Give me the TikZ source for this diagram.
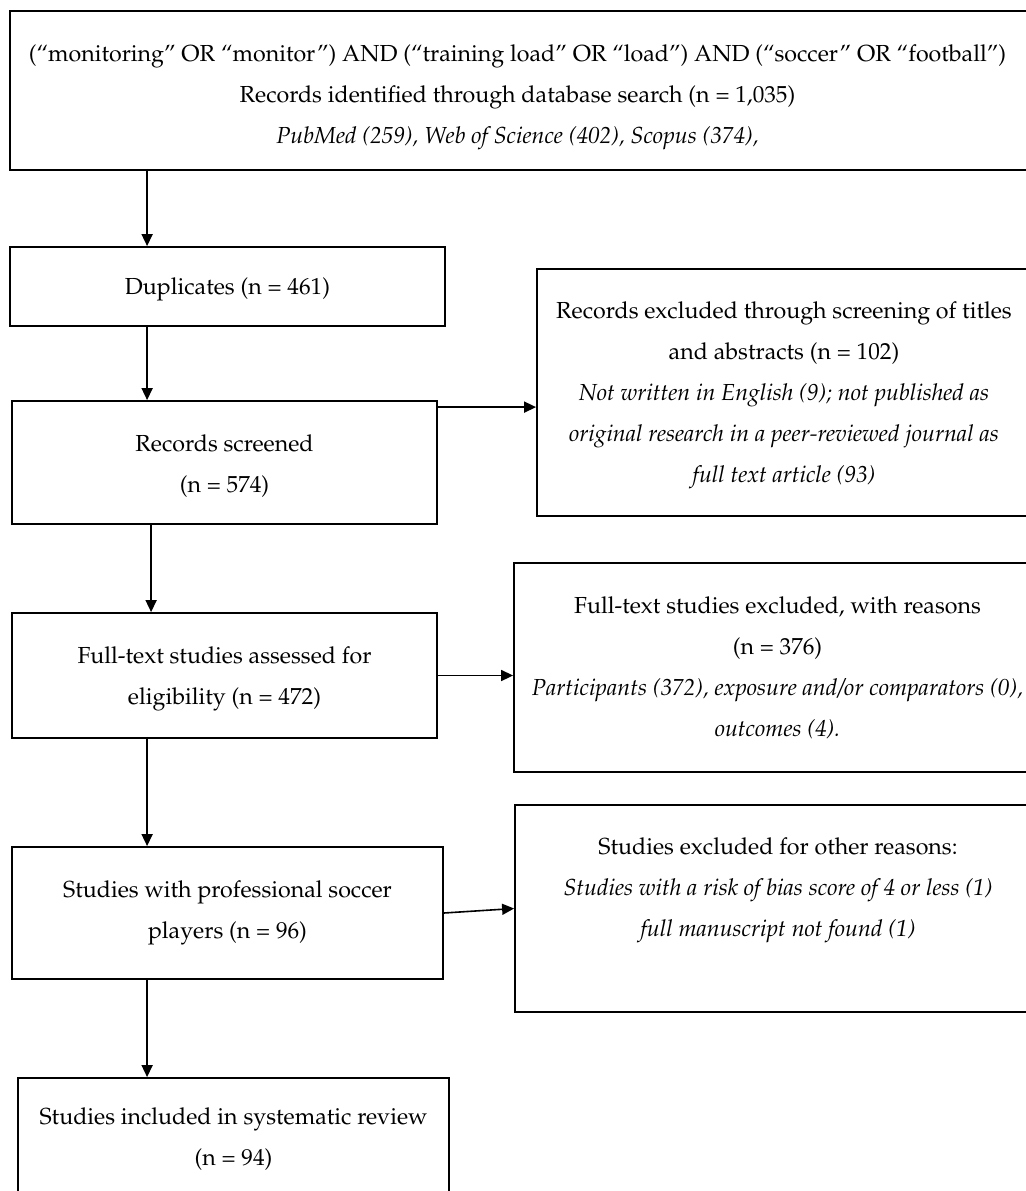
\documentclass[tikz,border=0pt]{standalone}
\usepackage[T1]{fontenc}
\usepackage{mathpazo}
\usetikzlibrary{arrows.meta}
\tikzset{
  box/.style={draw=black, line width=0.9pt, rectangle, inner sep=0pt},
  txt/.style={align=center, inner sep=0pt, font=\fontsize{11.6}{20.5}\selectfont},
  arr/.style={draw=black, line width=0.8pt, -{Triangle[length=6pt,width=5.5pt]}},
}
\begin{document}
\begin{tikzpicture}[x=0.5pt,y=-0.5pt]
\useasboundingbox (0,0) rectangle (1026,1191);
\fill[white] (0,0) rectangle (1026,1191);
\node[box, minimum width=515pt, minimum height=79.5pt] (top) at (525,90.5) {};
\node[txt, yshift=-3.5pt] (topT) at (517.5,90.5)
  {(``monitoring'' OR ``monitor'') AND (``training load'' OR ``load'') AND (``soccer'' OR ``football'')\\
   Records identified through database search (n = 1,035)\\
   \itshape PubMed (259), Web of Science (402), Scopus (374),};
\node[box, minimum width=217.5pt, minimum height=39.5pt] (dup) at (227.5,286.5) {};
\node[txt, yshift=-1.5pt] (dupT) at (dup) {Duplicates (n = 461)};
\node[box, minimum width=212.5pt, minimum height=61.5pt] (scr) at (224.5,462.5) {};
\node[txt, yshift=-2pt] (scrT) at (scr) {Records screened\\(n = 574)};
\node[box, minimum width=251.5pt, minimum height=123.5pt] (exa) at (788.5,392.5) {};
\node[txt, yshift=-1.5pt] (exaT) at (784,392.5)
  {Records excluded through screening of titles\\
   and abstracts (n = 102)\\
   \itshape Not written in English (9); not published as\\
   \itshape original research in a peer-reviewed journal as\\
   \itshape full text article (93)};
\node[box, minimum width=212.5pt, minimum height=62.5pt] (full) at (224.5,675.5) {};
\node[txt, yshift=-1.5pt] (fullT) at (full) {Full-text studies assessed for\\eligibility (n = 472)};
\node[box, minimum width=263pt, minimum height=104.5pt] (exb) at (777,667.5) {};
\node[txt] (exbT) at (777.5,667.5)
  {Full-text studies excluded, with reasons\\
   (n = 376)\\
   \itshape Participants (372), exposure and/or comparators (0),\\
   \itshape outcomes (4).};
\node[box, minimum width=262.5pt, minimum height=103.5pt] (exc) at (777.5,908.5) {};
\node[txt, anchor=north] (excT) at (778,837)
  {Studies excluded for other reasons:\\
   \itshape Studies with a risk of bias score of 4 or less (1)\\
   \itshape full manuscript not found (1)};
\node[box, minimum width=215.5pt, minimum height=66pt] (pro) at (227.5,913) {};
\node[txt] (proT) at (pro) {Studies with professional soccer\\players (n = 96)};
\node[box, minimum width=215.5pt, minimum height=61pt] (inc) at (233.5,1139) {};
\node[txt] (incT) at (inc) {Studies included in systematic review\\(n = 94)};
% vertical connectors
\draw[arr] ([xshift=69pt]top.south west) -- ([xshift=69pt]top.south west |- dup.north);
\draw[arr] ([xshift=69pt]dup.south west) -- ([xshift=69pt]dup.south west |- scr.north);
\draw[arr] ([xshift=70pt]scr.south west) -- ([xshift=70pt]scr.south west |- full.north);
\draw[arr] ([xshift=68pt]full.south west) -- ([xshift=68pt]full.south west |- pro.north);
\draw[arr] ([xshift=68pt]pro.south west) -- ([xshift=68pt]pro.south west |- inc.north);
% horizontal connectors
\draw[arr] ([yshift=-3.5pt]scr.north east) -- ([yshift=-3.5pt]scr.north east -| exa.west);
\draw[arr] (full.east) -- (full.east -| exb.west);
\draw[arr] (pro.east) -- (exc.west);
\end{tikzpicture}
\end{document}
